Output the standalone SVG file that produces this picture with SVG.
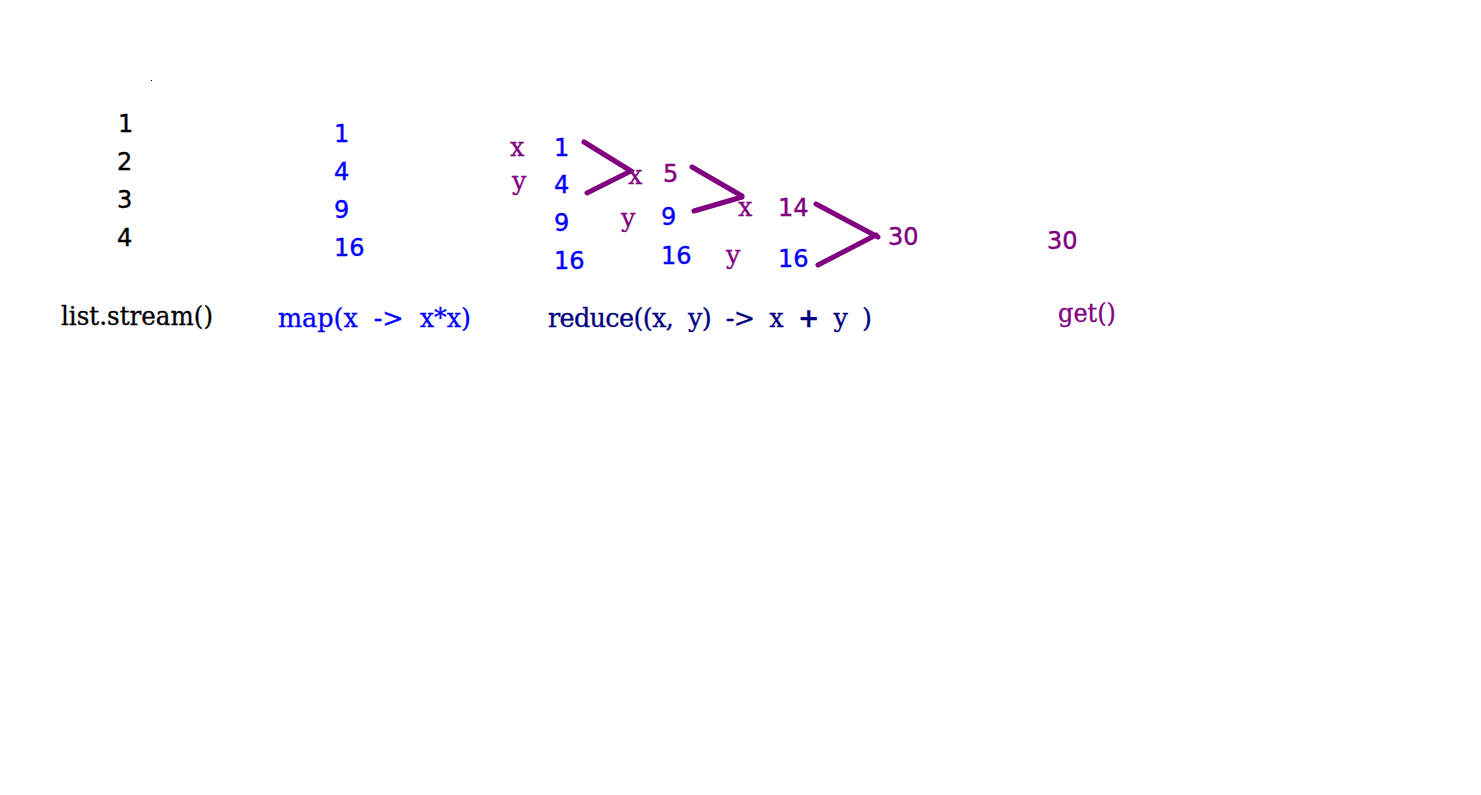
<svg xmlns="http://www.w3.org/2000/svg" width="1481" height="795" viewBox="0 0 1481 795">
<style>
.n{font-family:"DejaVu Sans",sans-serif;font-size:24px;stroke-width:0.4}
.t{font-family:"DejaVu Serif",serif;font-size:25.5px;white-space:pre;stroke-width:0.3}
.blk{fill:#000;stroke:#000}
.blu{fill:#0000ff;stroke:#0000ff}
.pur{fill:#800080;stroke:#800080}
.nav{fill:#000080;stroke:#000080}
.c{stroke:#800080;stroke-width:5;stroke-linecap:round;fill:none}
</style>
<rect width="1481" height="795" fill="#fff"/>
<rect x="151" y="80" width="1" height="1" fill="#000"/>
<g id="source">
<text class="n blk" x="118" y="132">1</text>
<text class="n blk" x="117" y="170">2</text>
<text class="n blk" x="117" y="208">3</text>
<text class="n blk" x="117" y="246">4</text>
<text class="t blk" x="61" y="325" textLength="152" lengthAdjust="spacingAndGlyphs">list.stream()</text>
</g>
<g id="map">
<text class="n blu" x="334" y="142">1</text>
<text class="n blu" x="334" y="180">4</text>
<text class="n blu" x="334" y="218">9</text>
<text class="n blu" x="334" y="256">16</text>
<text class="t blu" x="278" y="327" textLength="193" lengthAdjust="spacing">map(x  -&gt;  x*x)</text>
</g>
<g id="reduce">
<text class="t pur" x="510" y="156">x</text>
<text class="t pur" x="512" y="190">y</text>
<text class="n blu" x="554" y="156">1</text>
<text class="n blu" x="554" y="193">4</text>
<text class="n blu" x="554" y="231">9</text>
<text class="n blu" x="554" y="269">16</text>
<text class="t pur" x="628" y="184">x</text>
<text class="n pur" x="663" y="182">5</text>
<text class="t pur" x="621" y="227">y</text>
<text class="n blu" x="661" y="225">9</text>
<text class="n blu" x="661" y="264">16</text>
<text class="t pur" x="738" y="216">x</text>
<text class="n pur" x="778" y="216">14</text>
<text class="t pur" x="726" y="264">y</text>
<text class="n blu" x="778" y="267">16</text>
<text class="n pur" x="888" y="245">30</text>
<text class="t nav" x="548" y="327" textLength="324" lengthAdjust="spacing">reduce((x,  y)  -&gt;  x  <tspan font-weight="bold">+</tspan>  y  )</text>
</g>
<g id="get">
<text class="n pur" x="1047" y="249">30</text>
<text class="t pur" x="1058" y="322" textLength="58" lengthAdjust="spacingAndGlyphs">get()</text>
</g>
<g id="connectors">
<path class="c" d="M584 142 L631 171 M587 193 L631 171"/>
<path class="c" d="M692 167 L742 196 M694 211 L742 197"/>
<path class="c" d="M816 204 L878 237 M818 265 L876 235"/>
</g>
</svg>
